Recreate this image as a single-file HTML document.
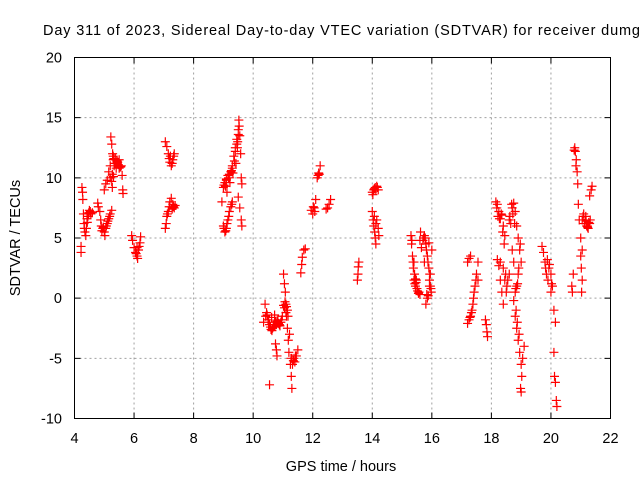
<!DOCTYPE html>
<html><head><meta charset="utf-8"><style>
body{margin:0;background:#fff;}
svg{display:block;font-family:"Liberation Sans",sans-serif;}
</style></head><body>
<svg id="chart" width="640" height="480">
<text x="43" y="35" font-size="14.5" textLength="597" lengthAdjust="spacing" fill="#000">Day 311 of 2023, Sidereal Day-to-day VTEC variation (SDTVAR) for receiver dumg</text>
<g id="grid"></g>
<g id="ticks"></g>
<g id="marks"></g>
<rect x="74.5" y="57.5" width="536" height="361" fill="none" stroke="#000" stroke-width="1"/>
<text x="341" y="471" font-size="14.5" text-anchor="middle">GPS time / hours</text>
<text transform="translate(20,238) rotate(-90)" font-size="14.5" text-anchor="middle">SDTVAR / TECUs</text>
</svg>
<script>
const xTicks=[4,6,8,10,12,14,16,18,20,22];
const yTicks=[-10,-5,0,5,10,15,20];
const times=[4.22,4.22,4.25,4.27,4.28,4.3,4.32,4.35,4.38,4.4,4.43,4.45,4.48,4.5,4.55,4.6,
4.78,4.8,4.85,4.88,4.9,4.95,5.0,5.02,5.05,5.1,5.15,5.2,5.25,
5.0,5.05,5.1,5.15,5.2,5.22,5.25,5.28,5.3,5.35,5.4,5.45,5.5,5.55,5.6,5.62,5.63,5.2,5.25,5.32,5.42,
5.92,5.95,6.0,6.05,6.1,6.12,6.15,6.2,6.22,
7.05,7.08,7.1,7.15,7.2,7.25,7.3,7.35,7.38,
7.05,7.1,7.15,7.2,7.25,7.3,7.35,7.22,
8.95,9.0,9.05,9.1,9.15,9.2,9.25,9.3,9.35,9.4,9.45,9.5,9.52,9.55,9.58,9.6,9.62,9.12,9.22,9.32,9.42,
9.0,9.05,9.1,9.15,9.2,9.25,9.3,9.5,9.55,9.6,9.62,
10.35,10.4,10.45,10.5,10.55,10.6,10.65,10.7,10.75,10.8,10.85,10.9,10.95,10.55,10.75,10.78,10.8,10.62,10.72,
11.02,11.05,11.08,11.1,11.12,11.15,11.18,11.2,11.25,11.28,11.3,11.3,11.35,11.4,11.45,11.5,11.05,11.1,11.15,
11.6,11.63,11.65,11.7,11.75,
11.95,12.0,12.05,12.1,12.15,12.2,12.25,
12.45,12.5,12.55,12.6,
13.5,13.52,13.53,13.55,
14.0,14.05,14.1,14.15,14.2,14.0,14.03,14.05,14.08,14.1,14.12,14.15,14.2,14.22,
15.3,15.32,15.35,15.38,15.4,15.42,15.45,15.5,15.55,15.6,15.62,15.65,15.4,15.48,
15.7,15.75,15.8,15.85,15.9,15.92,15.95,15.98,15.85,15.8,15.9,16.0,15.75,15.95,
17.2,17.25,17.3,17.35,17.4,17.45,17.5,17.55,17.2,17.25,17.3,17.55,
17.8,17.83,17.85,17.87,
18.15,18.2,18.25,18.3,18.35,18.4,18.45,18.2,18.25,18.3,18.35,18.4,18.3,18.4,18.45,18.5,
18.7,18.75,18.8,18.85,18.9,18.95,19.0,18.9,18.85,18.8,18.75,18.8,18.85,18.9,18.95,19.0,19.02,18.98,19.0,19.05,19.1,18.6,18.65,18.7,18.75,18.6,18.55,
19.7,19.75,19.8,19.85,19.9,19.95,20.0,20.05,20.0,20.1,20.15,20.1,20.12,20.15,20.18,20.2,
20.8,20.82,20.85,20.88,20.9,20.92,20.95,20.75,20.7,20.72,21.0,21.02,21.05,21.03,21.05,21.1,21.15,21.2,21.25,21.3,21.3,21.35,21.38,21.0,21.05,
4.33,4.42,4.47,4.53,4.92,4.97,5.07,5.12,5.18,5.27,5.3,5.33,5.37,5.4,5.43,5.47,5.5,5.52,5.57,5.27,5.31,
6.07,6.1,6.17,7.12,7.18,7.28,7.32,7.18,7.28,7.33,
9.02,9.07,9.1,9.17,9.2,9.27,9.3,9.37,9.4,9.45,9.48,9.5,9.53,9.47,9.02,9.08,9.12,9.18,9.28,
10.42,10.47,10.52,10.58,10.63,10.68,10.73,10.78,10.83,10.88,10.93,10.98,11.02,11.07,11.12,11.17,11.22,11.27,11.32,11.37,11.42,
12.02,12.07,12.18,12.22,14.02,14.07,14.12,14.17,14.07,14.12,
15.33,15.37,15.43,15.47,15.52,15.57,15.6,15.45,15.72,15.78,15.82,15.87,15.93,15.97,15.83,15.88,15.92,
17.28,17.33,17.38,17.42,17.48,
18.18,18.22,18.27,18.33,18.38,18.43,18.48,18.52,18.62,18.68,18.72,18.78,18.82,18.88,18.92,18.97,18.83,18.87,18.93,
19.82,19.88,19.93,20.02,
20.78,20.84,21.08,21.12,21.18,21.22,21.27,21.32,21.17,21.23];
const values=[3.8,4.3,9.2,8.8,8.2,7.0,6.2,5.5,5.2,5.8,6.3,6.8,7.1,7.3,7.0,7.1,
7.9,7.6,7.2,6.5,6.0,5.8,5.5,5.2,5.8,6.2,6.6,7.0,7.3,
9.0,9.5,9.8,10.5,11.0,13.4,12.8,12.0,11.5,11.2,11.0,11.3,10.8,10.9,10.2,9.0,8.7,10.0,9.7,11.6,11.4,
5.2,4.8,4.2,3.8,3.5,3.3,4.0,4.6,5.1,
5.8,6.2,6.8,7.2,8.0,8.3,7.8,7.5,7.7,
13.0,12.6,12.0,11.3,11.0,11.5,12.0,11.8,
8.0,9.2,9.6,9.8,10.2,10.0,10.5,11.0,11.8,12.5,13.2,14.0,14.8,13.5,12.0,10.0,9.5,8.8,9.6,10.4,11.2,
6.0,5.5,5.8,6.5,7.2,7.6,8.0,8.4,7.5,6.5,6.0,
-2.0,-0.5,-1.2,-1.8,-2.2,-2.6,-2.5,-2.2,-2.0,-1.9,-2.1,-2.3,-1.8,-7.2,-3.8,-4.3,-4.8,-1.6,-1.4,
2.0,1.2,0.5,-0.5,-1.5,-2.5,-3.5,-4.5,-5.5,-6.5,-7.5,-5.0,-5.2,-5.3,-4.8,-4.3,-0.8,-1.2,-1.0,
2.1,2.8,3.4,4.0,4.1,
7.3,7.0,7.5,8.2,10.0,10.4,11.0,
7.4,7.5,7.8,8.2,
1.5,2.0,2.6,3.0,
8.8,9.0,9.2,9.3,9.0,7.2,6.5,6.0,5.5,5.0,4.5,6.5,5.8,5.2,
5.2,4.5,3.5,2.5,1.5,2.0,1.0,0.8,0.4,0.3,5.5,4.2,3.0,1.5,
4.8,5.2,4.5,3.5,2.5,1.5,1.0,0.5,0.0,-0.5,4.6,4.0,3.0,2.0,
-2.1,-1.8,-1.5,-1.0,0.0,1.0,2.0,1.5,3.0,3.3,3.5,3.0,
-1.8,-2.2,-2.8,-3.2,
8.0,7.8,7.2,6.6,6.9,6.0,5.2,3.2,2.7,1.5,0.5,-0.5,3.0,2.5,1.5,0.5,
7.5,7.9,7.2,6.0,5.0,4.0,3.0,2.0,1.0,0.5,-0.2,-1.5,-2.5,-3.5,-4.5,-5.5,-6.5,-7.5,-7.8,-5.0,-4.0,6.5,6.2,4.0,3.0,2.0,1.5,
4.3,3.8,3.0,2.0,1.5,2.8,2.0,1.0,0.5,-1.0,-2.0,-4.5,-6.5,-7.0,-8.5,-9.0,
12.5,12.2,11.5,10.5,9.5,7.8,6.5,2.0,1.0,0.5,3.5,2.5,1.5,0.5,6.5,7.0,6.5,6.0,5.8,6.2,8.5,9.0,9.3,5.0,4.0,
5.8,6.6,7.0,7.2,5.6,5.9,6.0,6.4,6.8,9.2,11.8,11.0,11.6,10.8,11.4,11.1,11.5,10.9,11.0,10.3,10.1,
3.7,4.2,4.3,7.0,7.6,7.4,7.6,11.6,11.2,11.8,
9.4,9.3,9.9,10.0,10.3,10.6,10.8,11.4,12.2,12.8,13.0,13.6,14.3,12.5,5.8,5.6,6.2,6.8,7.8,
-1.5,-1.4,-2.0,-2.4,-2.7,-2.4,-2.0,-2.2,-1.8,-2.2,-2.0,-1.5,-0.6,-0.3,-0.7,-1.5,-3.0,-5.0,-5.5,-5.0,-4.8,
7.6,7.2,10.2,10.3,8.6,9.1,9.0,9.2,6.8,6.2,
4.8,3.0,1.2,1.3,0.6,0.5,4.8,1.6,5.0,5.0,4.0,3.0,2.0,0.8,0.3,0.2,1.0,
-1.6,-1.2,-0.5,0.5,1.5,
7.5,6.8,6.6,7.0,5.5,4.5,2.0,1.0,6.8,7.8,7.0,6.2,0.8,1.2,2.5,4.5,-1.0,-2.0,-3.0,
2.5,3.2,2.5,1.2,
12.3,11.0,6.8,6.2,6.4,6.0,6.3,6.5,6.8,5.9];
const X0=74.5,X1=610.5,Y0=418.5,Y1=57.5;
const xs=t=>X0+(t-4)/18*(X1-X0);
const ys=v=>Y0-(v+10)/30*(Y0-Y1);
const NS='http://www.w3.org/2000/svg';
const grid=document.getElementById('grid'),ticks=document.getElementById('ticks'),marks=document.getElementById('marks');
xTicks.forEach(t=>{
  const x=xs(t);
  if(t>4&&t<22){const l=document.createElementNS(NS,'line');
  l.setAttribute('x1',x);l.setAttribute('x2',x);l.setAttribute('y1',Y1);l.setAttribute('y2',Y0);
  l.setAttribute('stroke','#a0a0a0');l.setAttribute('stroke-dasharray','2,3');
  
  
  grid.appendChild(l);}
  const tk=document.createElementNS(NS,'path');
  tk.setAttribute('d',`M${x},${Y0}v-6M${x},${Y1}v6`);tk.setAttribute('stroke','#000');
  
  
  ticks.appendChild(tk);
  const tx=document.createElementNS(NS,'text');
  tx.setAttribute('x',x);tx.setAttribute('y',443);tx.setAttribute('text-anchor','middle');tx.setAttribute('font-size','14.5');
  tx.textContent=t;
  
  
  ticks.appendChild(tx);
});
yTicks.forEach(v=>{
  const y=ys(v);
  if(v>-10&&v<20){const l=document.createElementNS(NS,'line');
  l.setAttribute('x1',X0);l.setAttribute('x2',X1);l.setAttribute('y1',y);l.setAttribute('y2',y);
  l.setAttribute('stroke','#a0a0a0');l.setAttribute('stroke-dasharray','2,3');
  
  
  grid.appendChild(l);}
  const tk=document.createElementNS(NS,'path');
  tk.setAttribute('d',`M${X0},${y}h6M${X1},${y}h-6`);tk.setAttribute('stroke','#000');
  
  
  ticks.appendChild(tk);
  const tx=document.createElementNS(NS,'text');
  tx.setAttribute('x',62);tx.setAttribute('y',y+5);tx.setAttribute('text-anchor','end');tx.setAttribute('font-size','14.5');
  tx.textContent=v;
  
  
  ticks.appendChild(tx);
});
let d='';
for(let i=0;i<times.length;i++){const x=xs(times[i]),y=ys(values[i]);d+=`M${x-4.5},${y}h9M${x},${y-4.5}v9`;}
const p=document.createElementNS(NS,'path');
p.setAttribute('d',d);p.setAttribute('stroke','#ff0000');p.setAttribute('stroke-width','1.2');p.setAttribute('fill','none');


marks.appendChild(p);
</script>
</body></html>
